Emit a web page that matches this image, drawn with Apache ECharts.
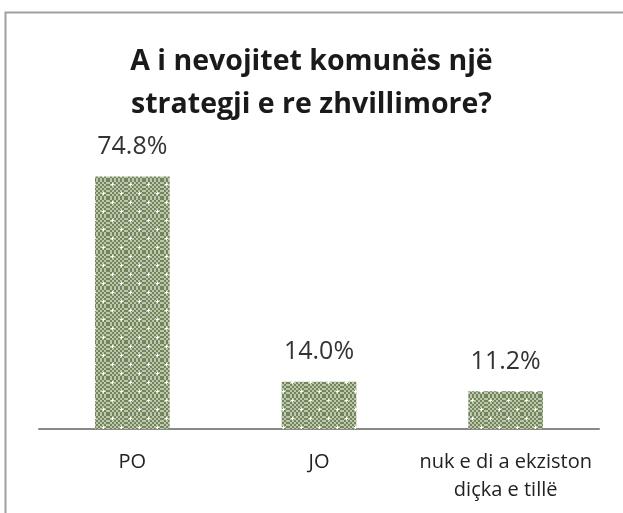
<!DOCTYPE html>
<html>
<head>
<meta charset="utf-8">
<script src="https://cdn.jsdelivr.net/npm/echarts@6/dist/echarts.min.js"></script>
<style>
  html, body { margin: 0; padding: 0; background: #fff; }
  #chart { width: 623px; height: 513px; }
</style>
</head>
<body>
<div id="chart"></div>
<script>
const titleLines = ['A i nevojitet komunës një', 'strategji e re zhvillimore?']
const categories = ['PO', 'JO', 'nuk e di a ekziston\ndiçka e tillë']
const values = [74.8, 14.0, 11.2]

// olive checker pattern with small white dots, like the office fill
function makePattern() {
  const c = document.createElement('canvas')
  c.width = 18
  c.height = 18
  const ctx = c.getContext('2d')
  ctx.fillStyle = '#bcc7ad'
  ctx.fillRect(0, 0, 18, 18)
  ctx.fillStyle = '#72855b'
  for (let y = 0; y < 18; y += 2) {
    for (let x = 0; x < 18; x += 2) {
      if (((x + y) / 2) % 2 === 0) ctx.fillRect(x, y, 2, 2)
    }
  }
  ctx.fillStyle = '#ffffff'
  const dots = [[4, 4], [13, 13]]
  dots.forEach(([x, y]) => {
    ctx.fillRect(x - 1, y, 3, 1)
    ctx.fillRect(x, y - 1, 1, 3)
  })
  return c
}

const myChart = echarts.init(document.getElementById('chart'))
myChart.setOption({
  animation: false,
  backgroundColor: '#fff',
  title: {
    text: titleLines.join('\n'),
    left: 'center',
    top: 35,
    textStyle: {
      fontFamily: 'Open Sans',
      fontWeight: 'bold',
      fontSize: 28.5,
      lineHeight: 43,
      color: '#1a1a1a'
    }
  },
  graphic: [{
    type: 'rect',
    shape: { x: 5.5, y: 12.5, width: 700, height: 600 },
    style: { fill: 'none', stroke: '#a0a0a0', lineWidth: 2 },
    silent: true
  }],
  grid: { left: 39, right: 24, top: 159, bottom: 84 },
  xAxis: {
    type: 'category',
    data: categories,
    axisLine: { lineStyle: { color: '#888', width: 2 } },
    axisTick: { show: false },
    axisLabel: {
      interval: 0,
      color: '#222',
      fontFamily: 'Open Sans',
      fontSize: 20,
      lineHeight: 28,
      margin: 19
    }
  },
  yAxis: {
    type: 'value',
    min: 0,
    max: 80,
    show: false,
    splitLine: { show: false }
  },
  series: [{
    type: 'bar',
    data: values,
    barWidth: '40%',
    itemStyle: {
      color: { image: makePattern(), repeat: 'repeat' }
    },
    label: {
      show: true,
      position: 'top',
      distance: 17,
      formatter: p => p.value.toFixed(1) + '%',
      fontFamily: 'Open Sans',
      fontSize: 25,
      color: '#333'
    }
  }]
})
</script>
</body>
</html>
